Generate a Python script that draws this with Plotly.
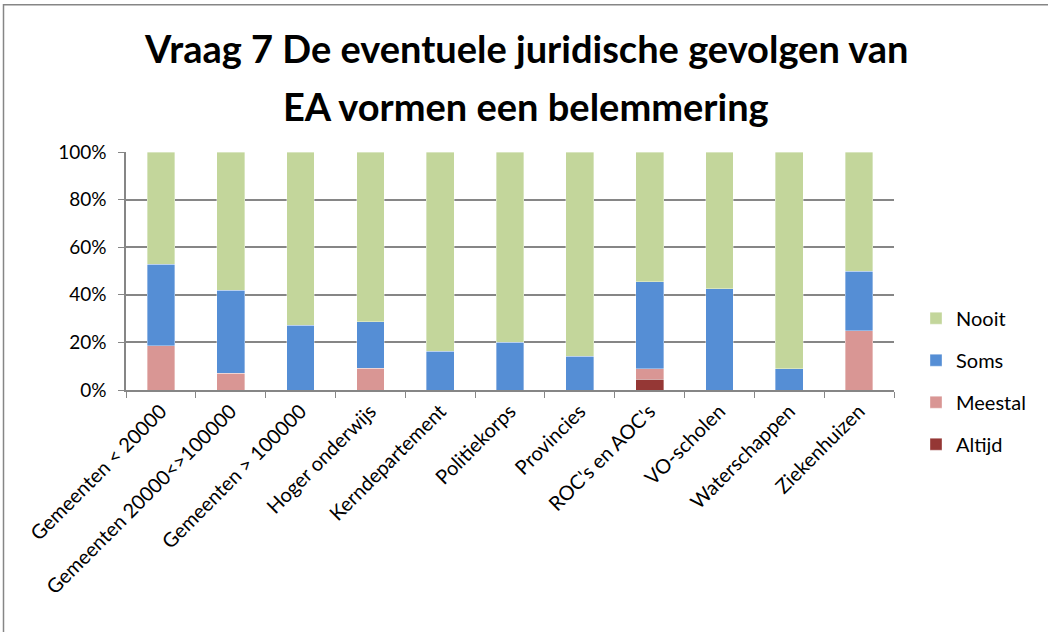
import plotly.graph_objects as go

categories = [
    "Gemeenten < 20000", "Gemeenten 20000<>100000", "Gemeenten > 100000",
    "Hoger onderwijs", "Kerndepartement", "Politiekorps", "Provincies",
    "ROC's en AOC's", "VO-scholen", "Waterschappen", "Ziekenhuizen",
]

altijd = [0, 0, 0, 0, 0, 0, 0, 4.5, 0, 0, 0]
meestal = [18.6, 7.0, 0, 9.1, 0, 0, 0, 4.5, 0, 0, 25.0]
soms = [34.2, 35.0, 27.2, 19.5, 16.2, 20.0, 14.1, 36.4, 42.6, 8.9, 25.0]
nooit = [47.2, 58.0, 72.8, 71.4, 83.8, 80.0, 85.9, 54.6, 57.4, 91.1, 50.0]

# stacked bottom-to-top; legend lists them top-to-bottom (rank)
series = [
    ("Altijd", altijd, "#953735", 4),
    ("Meestal", meestal, "#D99694", 3),
    ("Soms", soms, "#558ED5", 2),
    ("Nooit", nooit, "#C3D69B", 1),
]

font_family = "Lato, 'Open Sans', sans-serif"

fig = go.Figure()
for name, vals, color, rank in series:
    fig.add_trace(go.Bar(
        x=categories, y=vals, name=name, legendgroup=name, legendrank=rank,
        marker=dict(color=color, line=dict(color="rgba(255,255,255,0.6)", width=0.6)),
    ))

W, H = 1048, 632
L, R, T, B = 126, 154, 152, 241.5
pw, ph = W - L - R, H - T - B

def px_x(x):
    return (x - L) / pw

def px_y(y):
    return (H - B - y) / ph

fig.update_layout(
    width=W, height=H,
    margin=dict(l=L, r=R, t=T, b=B),
    barmode="stack", bargap=0.603,
    plot_bgcolor="white", paper_bgcolor="white",
    font=dict(family=font_family, size=19, color="#000000"),
    showlegend=True,
    legend=dict(
        traceorder="grouped", tracegroupgap=13,
        x=px_x(916), xanchor="left", y=px_y(299), yanchor="top",
        font=dict(size=20), itemwidth=30, bgcolor="rgba(0,0,0,0)",
    ),
    xaxis=dict(
        type="category", tickangle=-45, ticks="outside", tickson="boundaries",
        ticklen=6, tickcolor="#868686", showline=True, linecolor="#868686",
        linewidth=1.5, showgrid=False, tickfont=dict(size=20),
    ),
    yaxis=dict(
        range=[0, 100], tickvals=[0, 20, 40, 60, 80, 100],
        ticktext=["0%", "20%", "40%", "60%", "80%", "100%"],
        ticks="outside", ticklen=6, tickcolor="#868686",
        showline=True, linecolor="#868686", linewidth=1.5,
        showgrid=True, gridcolor="#868686", gridwidth=1.5,
        tickfont=dict(size=19), zeroline=False, ticklabelstandoff=8,
    ),
    shapes=[dict(
        type="rect", xref="paper", yref="paper",
        x0=px_x(3.5), x1=px_x(1100), y0=px_y(700), y1=px_y(4.5),
        line=dict(color="#868686", width=1.5), fillcolor="rgba(0,0,0,0)", layer="below",
    )],
    annotations=[
        dict(text="<b>Vraag 7 De eventuele juridische gevolgen van</b>",
             xref="paper", yref="paper", x=px_x(526), y=px_y(48),
             xanchor="center", yanchor="middle", showarrow=False,
             font=dict(size=38, family=font_family)),
        dict(text="<b>EA vormen een belemmering</b>",
             xref="paper", yref="paper", x=px_x(526), y=px_y(106),
             xanchor="center", yanchor="middle", showarrow=False,
             font=dict(size=38, family=font_family)),
    ],
)

fig.write_html("out.html")
